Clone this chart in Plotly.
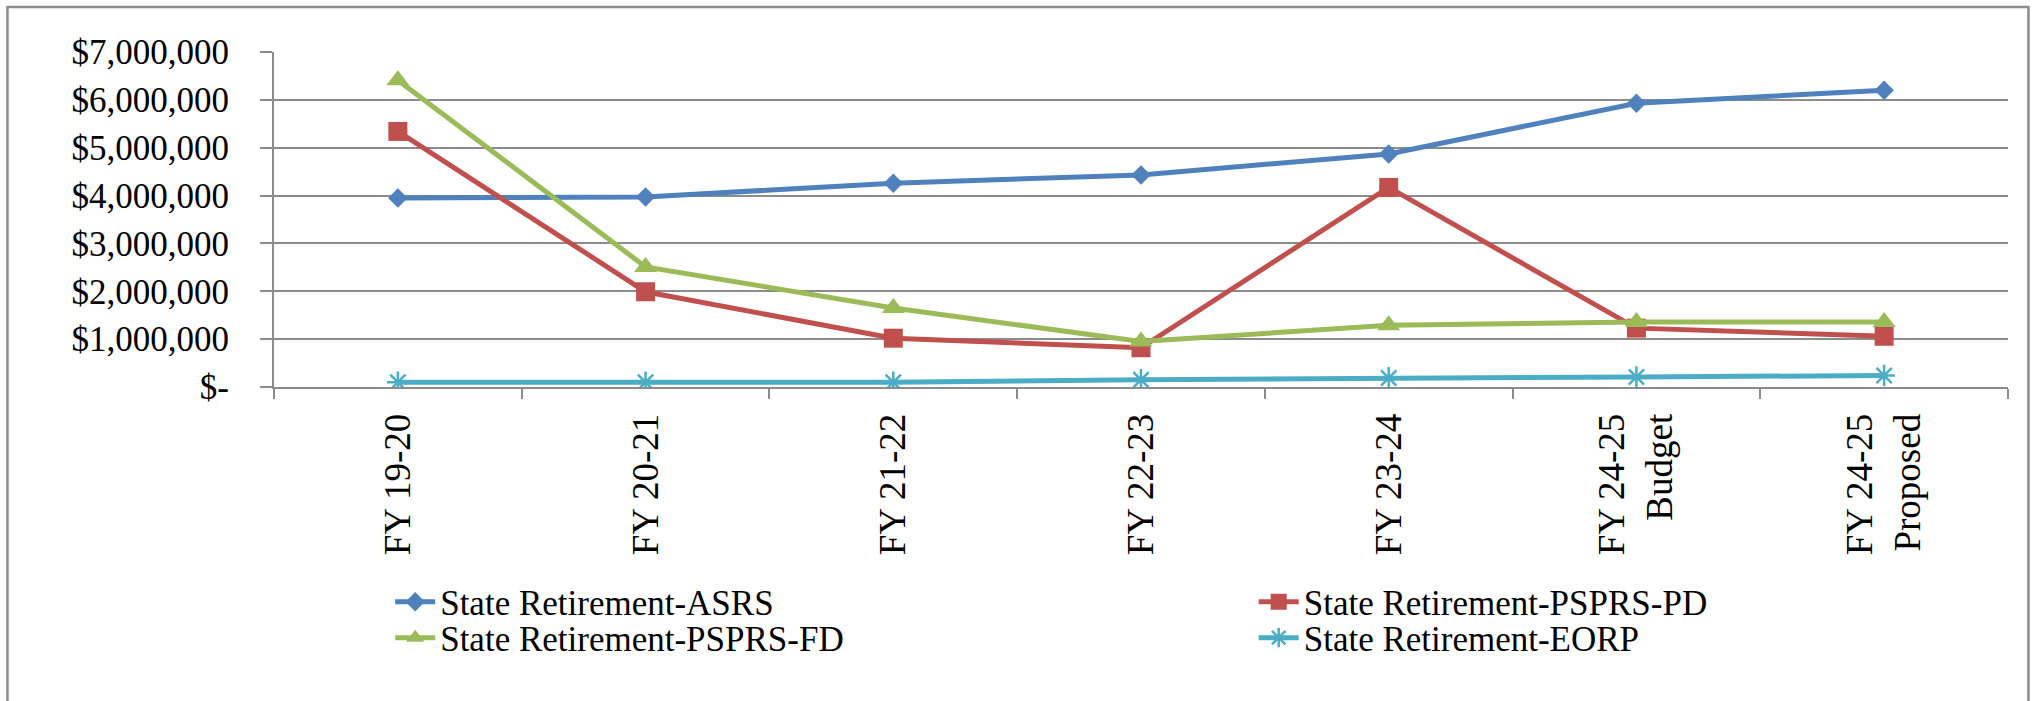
import plotly.graph_objects as go

categories = ["FY 19-20", "FY 20-21", "FY 21-22", "FY 22-23", "FY 23-24",
              "FY 24-25<br>Budget", "FY 24-25<br>Proposed"]
asrs = [3950000, 3970000, 4260000, 4430000, 4870000, 5930000, 6200000]
pspd = [5340000, 1990000, 1020000, 820000, 4170000, 1230000, 1060000]
psfd = [6410000, 2510000, 1650000, 950000, 1290000, 1360000, 1360000]
eorp = [100000, 100000, 100000, 150000, 190000, 210000, 240000]

y_tickvals = [0, 1000000, 2000000, 3000000, 4000000, 5000000, 6000000, 7000000]
y_ticktext = ["$-", "$1,000,000", "$2,000,000", "$3,000,000", "$4,000,000",
              "$5,000,000", "$6,000,000", "$7,000,000"]

FONT = "Liberation Serif"
fig = go.Figure()
series = [
    ("State Retirement-ASRS", asrs, "#4F81BD", "diamond", 15, "legend"),
    ("State Retirement-PSPRS-PD", pspd, "#C0504D", "square", 19, "legend2"),
    ("State Retirement-PSPRS-FD", psfd, "#9BBB59", "triangle-up", 20, "legend3"),
    ("State Retirement-EORP", eorp, "#4BACC6", "asterisk-open", 18, "legend4"),
]
for name, vals, col, sym, sz, lg in series:
    fig.add_trace(go.Scatter(
        x=categories, y=vals, name=name, mode="lines+markers", legend=lg,
        line=dict(color=col, width=5),
        marker=dict(symbol=sym, size=sz, color=col,
                    line=dict(color=col, width=2.5 if sym == "asterisk-open" else 0)),
    ))

def leg(x, y):
    return dict(x=x, y=y, xanchor="left", yanchor="middle",
                font=dict(family=FONT, size=35), itemwidth=40,
                bgcolor="rgba(0,0,0,0)")

fig.update_layout(
    width=2038, height=701,
    margin=dict(l=274, r=30, t=52, b=314, autoexpand=False),
    paper_bgcolor="white", plot_bgcolor="white",
    font=dict(family=FONT, color="black", size=32),
    showlegend=True,
    legend=leg(0.067, -0.642),
    legend2=leg(0.565, -0.642),
    legend3=leg(0.067, -0.749),
    legend4=leg(0.565, -0.749),
    shapes=[dict(type="rect", xref="paper", yref="paper",
                 x0=-0.1537, x1=1.0118, y0=-0.96, y1=1.134,
                 line=dict(color="#8c8c8c", width=2.5), layer="below")],
)
fig.update_xaxes(
    type="category", range=[-0.5, 6.5], tickangle=-90,
    showline=True, linecolor="#8c8c8c", linewidth=2,
    ticks="outside", tickson="boundaries", ticklen=10, tickwidth=2, tickcolor="#8c8c8c",
    showgrid=False, tickfont=dict(family=FONT, size=37), ticklabelstandoff=10,
)
fig.update_yaxes(
    range=[0, 7000000], tickvals=y_tickvals, ticktext=y_ticktext,
    showline=True, linecolor="#8c8c8c", linewidth=2,
    ticks="outside", ticklen=12, tickwidth=2, tickcolor="#8c8c8c",
    showgrid=True, gridcolor="#8c8c8c", gridwidth=2, zeroline=False,
    tickfont=dict(family=FONT, size=35), ticklabelstandoff=24,
)
fig.write_html("out.html", config={"displayModeBar": False},
               post_script="document.body.style.margin='0';document.body.style.overflow='hidden';")
